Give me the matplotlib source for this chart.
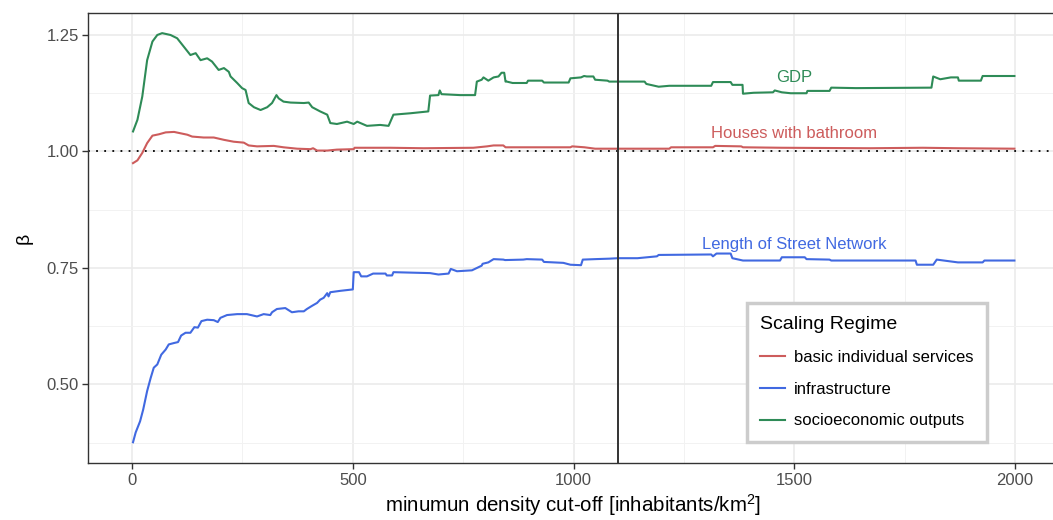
import numpy as np
import matplotlib.pyplot as plt

plt.rcParams['font.family'] = ['Liberation Sans', 'DejaVu Sans']
plt.rcParams['mathtext.default'] = 'regular'

# data (beta vs minimum density cut-off)
gdp_x = [2, 12, 23, 34, 46, 57, 68, 87, 102, 117, 132, 144, 155, 170, 181, 196, 208, 219, 223,
         238, 249, 257, 264, 276, 291, 306, 317, 327, 332, 343, 359, 389, 400, 408, 426, 442, 449,
         464, 487, 502, 510, 532, 562, 581, 592, 630, 671, 675, 694, 697, 701, 743, 777, 781, 792,
         796, 807, 819, 830, 837, 843, 846, 849, 862, 894, 897, 929, 933, 989, 993, 1017, 1024, 1030,
         1045, 1049, 1077, 1081, 1161, 1165, 1193, 1217, 1312, 1316, 1356, 1360, 1383, 1384, 1408,
         1452, 1456, 1472, 1492, 1528, 1530, 1580, 1584, 1640, 1811, 1815, 1831, 1855, 1871, 1873,
         1923, 1927, 1999]
gdp_y = [1.043, 1.068, 1.118, 1.196, 1.236, 1.250, 1.254, 1.250, 1.243, 1.225, 1.207, 1.211, 1.196,
         1.200, 1.193, 1.175, 1.179, 1.171, 1.161, 1.147, 1.136, 1.132, 1.104, 1.095, 1.089, 1.095,
         1.104, 1.121, 1.114, 1.107, 1.105, 1.104, 1.105, 1.095, 1.086, 1.079, 1.061, 1.059, 1.064,
         1.059, 1.064, 1.055, 1.057, 1.055, 1.079, 1.082, 1.086, 1.120, 1.121, 1.131, 1.123, 1.121,
         1.121, 1.150, 1.154, 1.159, 1.152, 1.159, 1.161, 1.169, 1.169, 1.150, 1.150, 1.147, 1.147,
         1.152, 1.152, 1.148, 1.148, 1.157, 1.159, 1.162, 1.161, 1.161, 1.154, 1.152, 1.150, 1.150,
         1.145, 1.139, 1.141, 1.141, 1.149, 1.149, 1.143, 1.143, 1.124, 1.126, 1.127, 1.131, 1.127,
         1.125, 1.125, 1.130, 1.130, 1.137, 1.136, 1.137, 1.161, 1.155, 1.159, 1.159, 1.152, 1.152,
         1.162, 1.162]

bath_x = [2, 12, 23, 34, 46, 61, 76, 95, 110, 125, 136, 162, 185, 208, 230, 253, 264, 283, 321,
          343, 374, 404, 410, 419, 442, 464, 502, 504, 585, 660, 773, 804, 819, 841, 846, 993, 997,
          1025, 1049, 1217, 1221, 1316, 1321, 1380, 1384, 1472, 1672, 1791, 1871, 1999]
bath_y = [0.975, 0.981, 0.997, 1.018, 1.034, 1.037, 1.041, 1.042, 1.039, 1.036, 1.032, 1.030, 1.030,
          1.025, 1.021, 1.019, 1.013, 1.011, 1.012, 1.009, 1.006, 1.005, 1.007, 1.002, 1.002, 1.004,
          1.005, 1.008, 1.008, 1.007, 1.008, 1.011, 1.013, 1.013, 1.009, 1.009, 1.011, 1.009, 1.006,
          1.006, 1.009, 1.009, 1.012, 1.011, 1.009, 1.008, 1.007, 1.008, 1.007, 1.006]

street_x = [2, 8, 18, 25, 34, 42, 49, 57, 66, 76, 83, 95, 104, 111, 121, 132, 141, 149, 157, 170,
            185, 194, 200, 215, 238, 260, 283, 298, 313, 317, 328, 347, 362, 377, 389, 396, 408,
            419, 426, 434, 442, 445, 449, 472, 500, 502, 514, 519, 532, 546, 574, 577, 589, 592,
            675, 694, 717, 722, 736, 770, 781, 792, 794, 807, 819, 841, 845, 886, 894, 929, 933,
            977, 993, 1017, 1021, 1049, 1081, 1101, 1145, 1189, 1193, 1312, 1316, 1324, 1356, 1360,
            1384, 1468, 1472, 1524, 1528, 1580, 1584, 1775, 1778, 1815, 1823, 1871, 1927, 1931, 1999]
street_y = [0.376, 0.397, 0.421, 0.446, 0.486, 0.514, 0.536, 0.543, 0.564, 0.575, 0.586, 0.589,
            0.591, 0.605, 0.611, 0.611, 0.623, 0.622, 0.636, 0.639, 0.638, 0.634, 0.643, 0.649,
            0.651, 0.651, 0.646, 0.651, 0.649, 0.655, 0.662, 0.664, 0.655, 0.657, 0.657, 0.662,
            0.669, 0.675, 0.682, 0.686, 0.696, 0.689, 0.698, 0.701, 0.704, 0.741, 0.741, 0.732,
            0.732, 0.738, 0.738, 0.734, 0.734, 0.741, 0.739, 0.736, 0.738, 0.748, 0.743, 0.745,
            0.750, 0.755, 0.759, 0.762, 0.769, 0.768, 0.767, 0.768, 0.769, 0.768, 0.763, 0.761,
            0.757, 0.756, 0.768, 0.769, 0.770, 0.771, 0.771, 0.775, 0.778, 0.779, 0.775, 0.781,
            0.781, 0.771, 0.766, 0.766, 0.773, 0.773, 0.769, 0.768, 0.766, 0.766, 0.757, 0.757,
            0.768, 0.762, 0.762, 0.766, 0.766]

cutoff = 1100
red, blue, green = '#CD5C5C', '#4169E1', '#2E8B57'

fig = plt.figure(figsize=(10.53, 5.2), dpi=100)
ax = fig.add_axes([88 / 1053, 57 / 520, 971 / 1053, 450 / 520])

ax.plot(bath_x, bath_y, color=red, lw=1.5, label='basic individual services')
ax.plot(street_x, street_y, color=blue, lw=1.5, label='infrastructure')
ax.plot(gdp_x, gdp_y, color=green, lw=1.5, label='socioeconomic outputs')

ax.axhline(1.0, color='black', lw=1.3, ls=(0, (1, 3.5)), zorder=1)
ax.axvline(cutoff, color='#333333', lw=1.4)

ax.text(1500, 1.159, 'GDP', color=green, fontsize=12, ha='center', va='center')
ax.text(1500, 1.039, 'Houses with bathroom', color=red, fontsize=12, ha='center', va='center')
ax.text(1500, 0.80, 'Length of Street Network', color=blue, fontsize=12, ha='center', va='center')

ax.set_xlim(-100, 2100)
ax.set_ylim(0.3315, 1.2972)
ax.set_xticks([0, 500, 1000, 1500, 2000])
ax.set_xticks([250, 750, 1250, 1750], minor=True)
ax.set_yticks([0.5, 0.75, 1.0, 1.25])
ax.set_yticklabels(['0.50', '0.75', '1.00', '1.25'])
ax.set_yticks([0.375, 0.625, 0.875, 1.125], minor=True)
ax.grid(True, which='major', color='#EBEBEB', lw=1.2, zorder=0)
ax.grid(True, which='minor', color='#F2F2F2', lw=0.7, zorder=0)
ax.set_axisbelow(True)
ax.tick_params(which='major', length=4, width=1, color='#333333', labelcolor='#4D4D4D',
               labelsize=12, pad=2.5)
ax.tick_params(axis='x', pad=3)
ax.tick_params(which='minor', length=0)
for s in ax.spines.values():
    s.set_color('#333333')
    s.set_linewidth(1.0)

ax.set_xlabel('minumun density cut-off [inhabitants/km$^{2}$]', fontsize=14.8, labelpad=3)
ax.set_ylabel('β', fontsize=14, labelpad=10)

leg = ax.legend(title='Scaling Regime', loc='upper left', bbox_to_anchor=(747 / 1053, 1 - 303 / 520),
                bbox_transform=fig.transFigure, borderaxespad=0, fontsize=12, title_fontsize=14,
                frameon=True, fancybox=False, framealpha=1, edgecolor='#CCCCCC',
                handlelength=1.5, handletextpad=0.5, labelspacing=1.0, borderpad=0.8,
                alignment='left')
leg.get_frame().set_linewidth(2.5)

fig.savefig('out.png', dpi=100)
